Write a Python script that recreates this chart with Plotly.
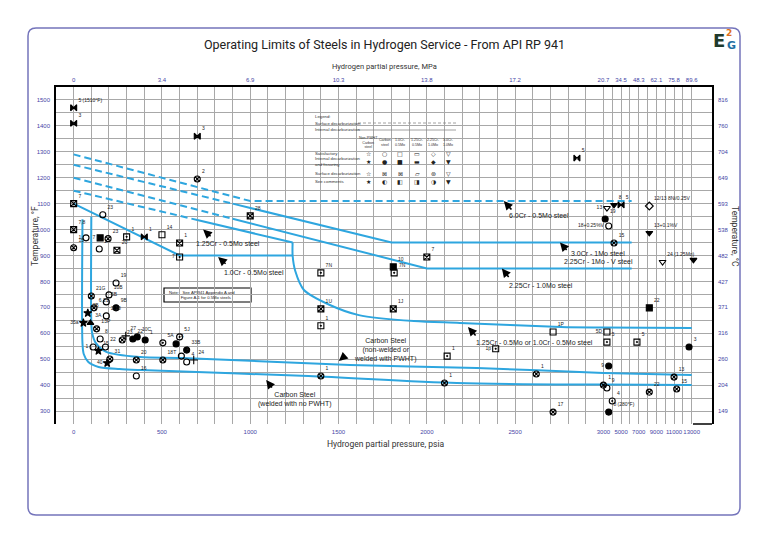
import plotly.graph_objects as go

# ---------------- axis data ----------------
psia_ticks = [0, 500, 1000, 1500, 2000, 2500, 3000, 5000, 7000, 9000, 11000, 13000]
psia_labels = ["0", "500", "1000", "1500", "2000", "2500", "3000", "5000", "7000", "9000", "11000", "13000"]
mpa_labels = ["0", "3.4", "6.9", "10.3", "13.8", "17.2", "20.7", "34.5", "48.3", "62.1", "75.8", "89.6"]
psia_grid = list(range(0, 3001, 100)) + list(range(4000, 13001, 1000))
degF_ticks = [300, 400, 500, 600, 700, 800, 900, 1000, 1100, 1200, 1300, 1400, 1500]
degC_labels = ["149", "204", "260", "316", "371", "427", "482", "538", "593", "649", "704", "760", "816"]
degF_grid = list(range(250, 1551, 50))

# ---------------- Nelson curves (psia, deg F) ----------------
cr6_p = [0, 1000, 6200]
cr6_t = [1290, 1110, 1110]
cr3_surf_p = [0, 900]
cr3_surf_t = [1250, 1100]
cr3_int_p = [900, 1800, 6200]
cr3_int_t = [1100, 950, 950]
cr225_surf_p = [0, 900]
cr225_surf_t = [1200, 1042]
cr225_int_p = [900, 2000, 6200]
cr225_int_t = [1042, 850, 850]
cr125_surf_p = [0, 700]
cr125_surf_t = [1150, 1037]
cr125_int_p = [700, 1240]
cr125_int_t = [1037, 950]
cr1_p = [0, 600, 1240]
cr1_t = [1100, 900, 900]
crmo_low_p = [1240, 1240, 1255, 1304, 1451, 1615, 1927, 2187, 2759, 3000, 13000]
crmo_low_t = [950, 900, 840, 767, 709, 670, 647, 640, 624, 622, 620]
cs_pwht_p = [100, 100, 105, 125, 185, 376, 614, 1565, 2283, 3000, 13000]
cs_pwht_t = [1050, 640, 600, 563, 528, 508, 505, 478, 466, 447, 439]
cs_nopwht_p = [50, 50, 57, 83, 141, 260, 380, 1330, 2170, 3000, 13000]
cs_nopwht_t = [1040, 560, 520, 489, 470, 462, 458, 435, 408, 402, 400]

# ---------------- experience points ----------------
mk_p = [0, 0, 700, 700, 0, 0, 0, 70, 150, 195, 165, 300, 400, 500, 600, 600, 145, 245,
        240, 100, 200, 185, 240, 115, 80, 185, 55, 95, 130, 150, 275, 295, 335, 360, 405,
        505, 580, 600, 640, 110, 180, 140, 205, 190, 355, 355, 505, 610, 640, 680,
        1400, 1810, 1400, 2115, 2390, 2715, 3400, 3400, 6800, 8200, 12700, 3600, 11000,
        11300, 8200, 3000, 3400, 4000, 3600, 2715, 2100, 1400, 2620,
        2850, 3400, 4200, 5000, 8200, 3200, 3600, 8200, 4200, 9700, 13200,
        2000, 1810, 1815, 1400, 1000]
mk_t = [1470, 1410, 1360, 1195, 1100, 1000, 930, 968, 968, 965, 1057, 972, 972, 980, 948, 894, 925, 920,
        794, 744, 748, 721, 698, 698, 678, 667, 640, 640, 617, 578, 574, 590, 578, 586, 574,
        563, 559, 586, 535, 547, 547, 532, 501, 485, 497, 435, 497, 512, 489, 497,
        694, 694, 629, 512, 540, 605, 605, 566, 566, 698, 547, 474, 431,
        385, 373, 400, 389, 339, 296, 296, 408, 435, 443,
        1276, 1083, 1095, 1095, 1091, 1041, 1014, 987, 948, 875, 883,
        894, 856, 833, 833, 1053]
mk_lab = ["5 (1510°F)", "3", "3", "2", "7", "7,8", "15", "1", "7", "23", "23", "1", "1", "14", "1", "7", "1", "20",
          "19", "21G", "10B", "5B", "9B", "6,21", "3B", "2,10", "35a", "3A", "13P", "8", "23", "27", "22", "10C", "1",
          "5A", "4", "5J", "33B", "1", "22", "15", "31", "40", "20", "16", "18T", "1", "4", "24",
          "1U", "1J", "1", "1", "1p", "1P", "5D", "5", "5", "22", "3", "9", "13",
          "15", "22", "1", "9", "4", "8 (280°F)", "17", "1", "1", "1",
          "5", "13", "8", "5", "12/13 8Ni/0.25V", "19", "18+0.25%V", "13+0.1%V", "15", "24 (1.25Mo)", "",
          "7", "10", "7N", "7N", "28"]
mk_sym = ["bw", "bw", "bw", "cx", "sx", "sx", "cx", "co", "sf", "cx", "co", "sh", "bw", "so", "sx", "sh", "co", "sx",
          "co", "cx", "co", "co", "cf", "cx", "st", "co", "st", "tr", "cx", "co", "cx", "cr", "cf", "cf", "cf",
          "ch", "cf", "ch", "cf", "co", "co", "st", "cx", "st", "cx", "co", "cx", "co", "co", "cr",
          "sx", "sx", "sh", "sh", "sh", "so", "so", "sh", "sh", "sf", "cf", "cf", "cx",
          "cx", "cx", "cx", "co", "ch", "cf", "cx", "cx", "cx", "cx",
          "bw", "tdo", "td", "bw", "do", "cf", "co", "td", "cx", "tdo", "td",
          "sx", "sf", "sh", "sh", "sx"]

# curve labels: text, position (psia, degF) and arrow tips (psia, degF)
crv_lab_text = ["6.0Cr - 0.5Mo steel", "3.0Cr - 1Mo steel", "2.25Cr - 1Mo - V steel",
                "2.25Cr - 1.0Mo steel", "1.25Cr - 0.5Mo steel", "1.0Cr - 0.5Mo steel",
                "1.25Cr - 0.5Mo or 1.0Cr - 0.5Mo steel",
                "Carbon Steel<br>(non-welded or<br>welded with PWHT)",
                "Carbon Steel<br>(welded with no PWHT)"]
crv_lab_p = [2635, 2969, 2975, 2646, 875, 1021, 2607, 1763, 1253]
crv_lab_t = [1056, 906, 875, 786, 948, 833, 566, 535, 343]
arr_p = [2436, 2754, None, 2425, 733, 818, 2233, 1502, 1090]
arr_t = [1110, 950, None, 850, 1000, 894, 624, 493, 420]

# ---------------- helpers ----------------
def xs1(v):
    return v if v <= 3000 else 3000 + (v - 3000) / 20.0

def xs(p):
    return [xs1(v) for v in p]

# page pixel -> paper (plot area spans page x 56..712, y 87..424)
def PX(px):
    return (px - 56) / 656.0

def PY(py):
    return (424 - py) / 337.0

def pann(px, py, text, font, xanchor="center", angle=0, align="center"):
    return dict(x=PX(px), y=PY(py), xref="paper", yref="paper", showarrow=False, text=text,
                font=font, xanchor=xanchor, yanchor="middle", textangle=angle, align=align)

BLUE = "#2ea6df"
sym_map = {"bw": "bowtie", "co": "circle-open", "cf": "circle", "cx": "circle-x-open",
           "sx": "square-x-open", "so": "square-open", "sf": "square", "sh": "square-open-dot",
           "ch": "circle-open-dot", "st": "star", "tr": "triangle-up", "td": "triangle-down",
           "tdo": "triangle-down-open", "do": "diamond-open", "cr": "cross-thin-open"}
left_lab = {7, 8, 15, 26, 39, 43, 54, 56, 61, 74, 79}
text_pos = ["middle left" if i in left_lab else "top right" for i in range(len(mk_p))]
arr_ax = [9, 8, None, 8, 9, 9, 9, 7, 7]
arr_ay = [10, 9, None, 10, 8, 8, 10, -6, 9]

fig = go.Figure()

def curve(p, t, dash="solid", shape="linear"):
    fig.add_trace(go.Scatter(x=xs(p), y=t, mode="lines",
                             line=dict(color=BLUE, width=2, dash=dash, shape=shape, smoothing=0.8),
                             hoverinfo="skip"))

D = "7px,4px"
curve(cr6_p, cr6_t, D)
curve(cr3_surf_p, cr3_surf_t, D)
curve(cr3_int_p, cr3_int_t)
curve(cr225_surf_p, cr225_surf_t, D)
curve(cr225_int_p, cr225_int_t)
curve(cr125_surf_p, cr125_surf_t, D)
curve(cr125_int_p, cr125_int_t)
curve(cr1_p, cr1_t)
curve(crmo_low_p, crmo_low_t, shape="spline")
curve(cs_pwht_p, cs_pwht_t, shape="spline")
curve(cs_nopwht_p, cs_nopwht_t, shape="spline")

fig.add_trace(go.Scatter(
    x=xs(mk_p), y=mk_t, mode="markers+text", text=mk_lab, textposition=text_pos,
    textfont=dict(size=5, color="#222222", family="Liberation Sans"),
    marker=dict(symbol=[sym_map[s] for s in mk_sym], size=6, color="black",
                line=dict(color="black", width=1.1)),
    hoverinfo="skip", cliponaxis=False))

# invisible trace for the secondary axes
fig.add_trace(go.Scatter(x=[None], y=[None], xaxis="x2", yaxis="y2", showlegend=False))

ann = []
for i, (txt, p, t) in enumerate(zip(crv_lab_text, crv_lab_p, crv_lab_t)):
    ann.append(dict(x=xs1(p), y=t, xref="x", yref="y", text=txt, showarrow=False,
                    xanchor="center", yanchor="middle",
                    font=dict(size=7, color="#222222", family="Liberation Sans"), align="center"))
    if arr_p[i] is not None:
        ann.append(dict(x=xs1(arr_p[i]), y=arr_t[i], xref="x", yref="y", text="", showarrow=True,
                        ax=arr_ax[i], ay=arr_ay[i],
                        arrowhead=2, arrowsize=1.1, arrowwidth=1.6, arrowcolor="black"))

# titles
ann.append(pann(384, 45, "Operating Limits of Steels in Hydrogen Service - From API RP 941",
                dict(size=12.5, color="#222222", family="Roboto")))
ann.append(pann(384, 67, "Hydrogen partial pressure, MPa", dict(size=7.5, color="#333333", family="Roboto")))
ann.append(pann(386, 444, "Hydrogen partial pressure, psia", dict(size=8.5, color="#333333", family="Roboto")))
ann.append(pann(35, 236, "Temperature, °F", dict(size=8.5, color="#333333", family="Roboto"), angle=-90))
ann.append(pann(735, 236, "Temperature, °C", dict(size=8.5, color="#333333", family="Roboto"), angle=90))
# logo
ann.append(pann(719, 41, "<b>E</b>", dict(size=18, color="#1f3a2c", family="DejaVu Sans")))
ann.append(pann(729, 33, "<b>2</b>", dict(size=9, color="#e0701c", family="DejaVu Sans")))
ann.append(pann(731, 46, "<b>G</b>", dict(size=11, color="#1d6fa3", family="DejaVu Sans")))

# legend box texts
LF = dict(size=4.3, color="#333333", family="Liberation Sans")
ann.append(pann(313, 116, "Legend:", LF, xanchor="left"))
ann.append(pann(313, 123, "Surface decarburization", LF, xanchor="left"))
ann.append(pann(313, 130, "Internal decarburization", LF, xanchor="left"))
row_txt = ["Satisfactory", "Internal decarburization<br>and fissuring", "Surface decarburization", "See comments"]
row_py = [153, 161, 173, 181]
for rt, ry in zip(row_txt, row_py):
    ann.append(pann(313, ry, rt, LF, xanchor="left", align="left"))
col_txt = ["Non-PWHT<br>Carbon<br>steel", "Carbon<br>steel", "1.0Cr-<br>0.5Mo", "1.25Cr-<br>0.5Mo",
           "2.25Cr-<br>1.0Mo", "3.0Cr-<br>1.0Mo"]
col_px = [368, 385, 400, 417, 433, 448]
for ct, cx in zip(col_txt, col_px):
    ann.append(pann(cx, 142, ct, dict(size=3.6, color="#333333", family="Liberation Sans")))
glyphs = [["☆", "○", "□", "▭", "◇", "▽"],
          ["★", "●", "■", "▬", "◆", "▼"],
          ["☆", "⊠", "⊠", "▱", "⊛", "▽"],
          ["★", "◐", "◧", "◨", "◑", "▼"]]
for gr, ry in zip(glyphs, row_py):
    for g, cx in zip(gr, col_px):
        ann.append(pann(cx, ry, g, dict(size=6, color="#222222", family="DejaVu Sans")))
# note box
ann.append(pann(167, 295, "Note:&nbsp;&nbsp;&nbsp;See API941 Appendix A and<br>&nbsp;&nbsp;&nbsp;&nbsp;&nbsp;&nbsp;&nbsp;&nbsp;&nbsp;&nbsp;Figure A-1 for 0.5Mo steels",
                dict(size=4.2, color="#222222", family="Liberation Sans"), xanchor="left", align="left"))

# frame path (rounded)
x0, x1, yt, yb = PX(28), PX(740), PY(28), PY(515)
rx, ry = 8 / 656.0, 8 / 337.0
frame = (f"M{x0},{yb + ry} L{x0},{yt - ry} Q{x0},{yt} {x0 + rx},{yt} L{x1 - rx},{yt} "
         f"Q{x1},{yt} {x1},{yt - ry} L{x1},{yb + ry} Q{x1},{yb} {x1 - rx},{yb} "
         f"L{x0 + rx},{yb} Q{x0},{yb} {x0},{yb + ry} Z")
shapes = [
    dict(type="path", path=frame, xref="paper", yref="paper", line=dict(color="#7474bb", width=1.5), layer="below"),
    dict(type="rect", xref="paper", yref="paper", x0=PX(310), x1=PX(458), y0=PY(187), y1=PY(112),
         fillcolor="white", line=dict(width=0), layer="between"),
    dict(type="line", xref="paper", yref="paper", x0=PX(358), x1=PX(456), y0=PY(123), y1=PY(123),
         line=dict(color="#888888", width=0.8, dash="3px,2px")),
    dict(type="line", xref="paper", yref="paper", x0=PX(358), x1=PX(456), y0=PY(130), y1=PY(130),
         line=dict(color="#888888", width=0.8)),
    dict(type="rect", xref="paper", yref="paper", x0=PX(164), x1=PX(251), y0=PY(302), y1=PY(288),
         fillcolor="white", line=dict(color="black", width=1.2), layer="between"),
    dict(type="line", xref="paper", yref="paper", x0=PX(693), x1=1, y0=0, y1=0,
         line=dict(color="black", width=1.5)),
]

tick_font = dict(size=6, color="#4646a6", family="Liberation Sans")
x_grid_vals = xs(psia_grid)
x_grid_text = [psia_labels[psia_ticks.index(v)] if v in psia_ticks else "" for v in psia_grid]
y_grid_text = [str(v) if v in degF_ticks else "" for v in degF_grid]

# the page body adds an 8px offset; figure is 760x535 so the plot area lands at page 56..712 x 87..424
fig.update_layout(
    width=760, height=535, margin=dict(l=48, r=56, t=79, b=119, autoexpand=False),
    paper_bgcolor="white", plot_bgcolor="white", showlegend=False,
    xaxis=dict(range=[-100, 3615], tickmode="array", tickvals=x_grid_vals, ticktext=x_grid_text,
               showgrid=True, gridcolor="#a8a8a8", gridwidth=1, zeroline=False, showline=False,
               ticks="", tickfont=tick_font, ticklabelstandoff=3, tickangle=0, automargin=False),
    xaxis2=dict(range=[-100, 3615], overlaying="x", side="top", tickmode="array",
                tickvals=xs(psia_ticks), ticktext=mpa_labels, showgrid=False, zeroline=False,
                showline=True, linecolor="black", linewidth=1.5, ticks="", tickfont=tick_font,
                ticklabelstandoff=1, tickangle=0, automargin=False),
    yaxis=dict(range=[250, 1550], tickmode="array", tickvals=degF_grid, ticktext=y_grid_text,
               showgrid=True, gridcolor="#a8a8a8", gridwidth=1, zeroline=False, showline=True,
               linecolor="black", linewidth=1.5, ticks="", tickfont=tick_font, ticklabelstandoff=3,
               automargin=False),
    yaxis2=dict(range=[250, 1550], overlaying="y", side="right", tickmode="array",
                tickvals=degF_ticks, ticktext=degC_labels, showgrid=False, zeroline=False,
                showline=True, linecolor="black", linewidth=1.5, ticks="", tickfont=tick_font,
                ticklabelstandoff=3, automargin=False),
    annotations=ann, shapes=shapes,
)

fig.write_html("out.html")
